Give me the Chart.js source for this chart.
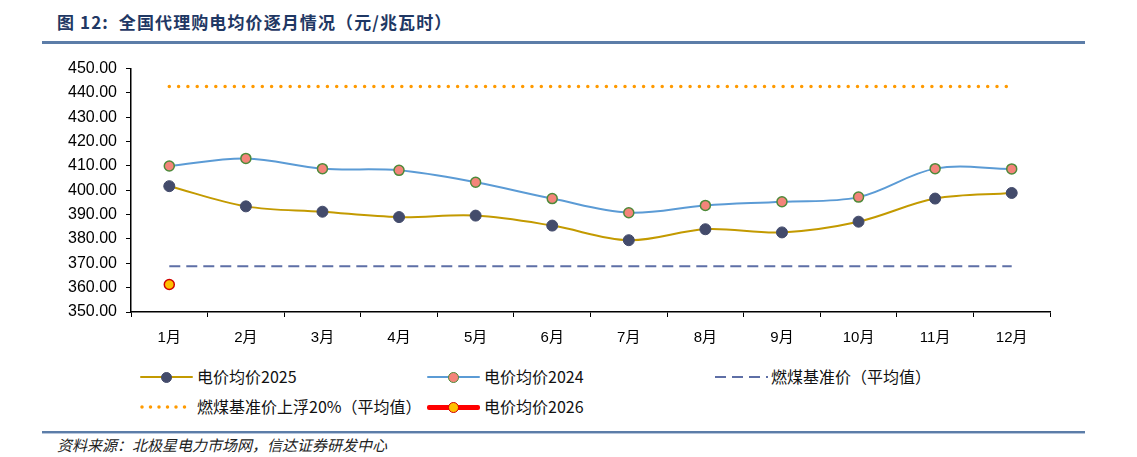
<!DOCTYPE html>
<html>
<head>
<meta charset="utf-8">
<script src="https://cdn.jsdelivr.net/npm/chart.js@4.4.1/dist/chart.umd.min.js"></script>
<style>
  html, body { margin:0; padding:0; background:#fff; }
  body { width:1137px; height:457px; position:relative; overflow:hidden;
         font-family:"Noto Sans CJK SC","Liberation Sans",sans-serif; }
  #title { position:absolute; left:57px; top:9px; font-size:17px; font-weight:bold; color:#1F3864; white-space:nowrap; letter-spacing:1.1px; }
  #topline { position:absolute; left:42px; top:41px; width:1043px; height:3px; background:#5C7DA8; }
  #botline { position:absolute; left:42px; top:431px; width:1043px; height:2px; background:#5C7DA8; border-bottom:1px solid #B7C6DC; }
  #source { position:absolute; left:57px; top:434px; font-size:15px; font-style:italic; color:#222; white-space:nowrap; }
  #chartBox { position:absolute; left:0; top:50px; width:1065px; height:305px; }
  .lg { position:absolute; height:20px; }
  .lg .txt { position:absolute; top:-2px; font-size:16px; color:#111; white-space:nowrap; line-height:22px; }
  .mk { position:absolute; top:0; width:53px; height:20px; }
  .mk .ln { position:absolute; left:0; top:9px; width:53px; height:2px; }
  .mk .dot { position:absolute; left:21px; top:5px; width:11px; height:11px; border-radius:50%; box-sizing:border-box; }
</style>
</head>
<body>
<div id="title">图 12:&nbsp; 全国代理购电均价逐月情况（元/兆瓦时）</div>
<div id="topline"></div>
<div id="chartBox"><canvas id="c"></canvas></div>
<div id="legend"></div>
<div id="botline"></div>
<div id="source">资料来源：北极星电力市场网，信达证券研发中心</div>
<script>
// ---- data ----
const months = ['1月','2月','3月','4月','5月','6月','7月','8月','9月','10月','11月','12月'];
const price2025 = [401.7, 393.4, 391.2, 389.0, 389.6, 385.5, 379.5, 384.0, 382.7, 387.1, 396.6, 398.9];
const price2024 = [410.0, 413.1, 408.9, 408.2, 403.3, 396.6, 390.8, 393.8, 395.3, 397.2, 408.9, 408.8];
const price2026 = [361.3, null, null, null, null, null, null, null, null, null, null, null];
const coalBase  = [368.8, 368.8, 368.8, 368.8, 368.8, 368.8, 368.8, 368.8, 368.8, 368.8, 368.8, 368.8];
const coalUpper = [442.6, 442.6, 442.6, 442.6, 442.6, 442.6, 442.6, 442.6, 442.6, 442.6, 442.6, 442.6];
const seriesNames = ['电价均价2025','电价均价2024','燃煤基准价（平均值）','燃煤基准价上浮20%（平均值）','电价均价2026'];
const yTicks = [350,360,370,380,390,400,410,420,430,440,450];

const C2025 = '#C39A00', D2025 = '#434B6B';
const C2024 = '#5B9BD5', F2024 = '#F4847A', B2024 = '#4E8A3A';
const CBASE = '#5E6FA6', CUP = '#FF9A00';

new Chart(document.getElementById('c'), {
  type: 'line',
  data: {
    labels: months,
    datasets: [
      { label: seriesNames[3], data: coalUpper, borderColor: CUP, borderWidth: 3.5, borderDash: [0, 9.3],
        borderCapStyle: 'round', pointRadius: 0, tension: 0, order: 5 },
      { label: seriesNames[2], data: coalBase, borderColor: CBASE, borderWidth: 2, borderDash: [11, 6],
        pointRadius: 0, tension: 0, order: 4 },
      { label: seriesNames[1], data: price2024, borderColor: C2024, borderWidth: 2, tension: 0.35,
        pointRadius: 5, pointBackgroundColor: F2024, pointBorderColor: B2024, pointBorderWidth: 1.5, order: 3 },
      { label: seriesNames[0], data: price2025, borderColor: C2025, borderWidth: 2, tension: 0.35,
        pointRadius: 5.5, pointBackgroundColor: D2025, pointBorderColor: D2025, pointBorderWidth: 1, order: 2 },
      { label: seriesNames[4], data: price2026, borderColor: '#FF0000', borderWidth: 4, showLine: false,
        pointRadius: 5, pointBackgroundColor: '#FFC000', pointBorderColor: '#D00000', pointBorderWidth: 1.5, order: 1 }
    ]
  },
  options: {
    animation: false,
    responsive: true,
    maintainAspectRatio: false,
    layout: { padding: { top: 16, right: 15, left: 0, bottom: 0 } },
    plugins: { legend: { display: false }, tooltip: { enabled: false } },
    scales: {
      x: {
        offset: true,
        grid: { offset: true, drawOnChartArea: false, drawTicks: true, tickLength: 5, color: '#000' },
        border: { color: '#000', width: 1.5 },
        ticks: { color: '#000', padding: 12, font: { family: '"Liberation Sans","Noto Sans CJK SC"', size: 15 }, maxRotation: 0 },
        afterFit: s => { s.height = 43; }
      },
      y: {
        min: 350, max: 450,
        afterBuildTicks: s => { s.ticks = yTicks.map(v => ({ value: v })); },
        grid: { drawOnChartArea: false, drawTicks: true, tickLength: 5, color: '#000' },
        border: { color: '#000', width: 1.5 },
        ticks: { color: '#000', padding: 9, font: { family: '"Liberation Sans"', size: 16 },
                 callback: v => Number(v).toFixed(2) },
        afterFit: s => { s.width = 131; }
      }
    }
  }
});

// ---- HTML legend ----
const legendItems = [
  { name: seriesNames[0], x: 140, y: 367, kind: 'linedot', line: C2025, fill: D2025, border: D2025 },
  { name: seriesNames[1], x: 427, y: 367, kind: 'linedot', line: C2024, fill: F2024, border: B2024 },
  { name: seriesNames[2], x: 715, y: 367, kind: 'dash', line: CBASE },
  { name: seriesNames[3], x: 140, y: 397, kind: 'dots', line: CUP },
  { name: seriesNames[4], x: 427, y: 397, kind: 'thickdot', line: '#FF0000', fill: '#FFC000', border: '#D00000' }
];
const lg = document.getElementById('legend');
legendItems.forEach(it => {
  const d = document.createElement('div');
  d.className = 'lg';
  d.style.left = it.x + 'px';
  d.style.top = it.y + 'px';
  let mk = '';
  if (it.kind === 'linedot' || it.kind === 'thickdot') {
    const h = it.kind === 'thickdot' ? 5 : 2;
    const t = it.kind === 'thickdot' ? 8 : 9;
    mk = `<div class="mk"><div class="ln" style="background:${it.line};height:${h}px;top:${t}px;border-radius:2px"></div>` +
         `<div class="dot" style="background:${it.fill};border:1.5px solid ${it.border}"></div></div>`;
  } else if (it.kind === 'dash') {
    mk = `<svg class="mk" width="53" height="20"><line x1="0" y1="10" x2="53" y2="10" stroke="${it.line}" stroke-width="2" stroke-dasharray="11,6"/></svg>`;
  } else {
    mk = `<svg class="mk" width="53" height="20"><line x1="2" y1="10" x2="46" y2="10" stroke="${it.line}" stroke-width="3.5" stroke-linecap="round" stroke-dasharray="0,8.5"/></svg>`;
  }
  const tx = it.kind === 'dash' ? 56 : 57;
  d.innerHTML = mk + `<span class="txt" style="left:${tx}px">${it.name}</span>`;
  lg.appendChild(d);
});
</script>
</body>
</html>
